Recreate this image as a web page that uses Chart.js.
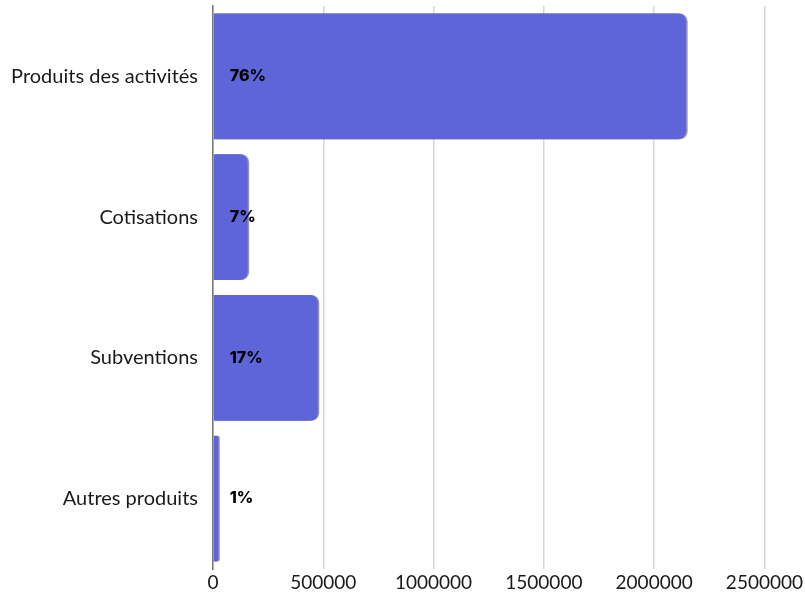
<!DOCTYPE html>
<html>
<head>
<meta charset="utf-8">
<script src="https://cdn.jsdelivr.net/npm/chart.js@4"></script>
<style>
  html, body { margin: 0; padding: 0; background: #fff; }
  #wrap { width: 805px; height: 592px; }
</style>
</head>
<body>
<div id="wrap"><canvas id="produitsChart" width="805" height="592"></canvas></div>
<script>
// donnees
const categories = ['Produits des activités', 'Cotisations', 'Subventions', 'Autres produits'];
const montants = [2145000, 157000, 475000, 24000];
const pourcentages = ['76%', '7%', '17%', '1%'];
const xTicks = [0, 500000, 1000000, 1500000, 2000000, 2500000];

// etiquettes en % dans les barres
const pctLabels = {
    id: 'pctLabels',
    afterDatasetsDraw(chart) {
        const ctx = chart.ctx;
        const meta = chart.getDatasetMeta(0);
        ctx.save();
        ctx.font = '800 16px Inter, "DejaVu Sans", sans-serif';
        ctx.fillStyle = '#000';
        ctx.textAlign = 'left';
        ctx.textBaseline = 'middle';
        meta.data.forEach((bar, i) => {
            ctx.fillText(pourcentages[i], bar.base + 16, bar.y);
        });
        ctx.restore();
    }
};

// petite ombre a droite des barres
const barShadow = {
    id: 'barShadow',
    beforeDatasetDraw(chart) {
        const ctx = chart.ctx;
        ctx.save();
        ctx.shadowColor = 'rgba(45, 35, 120, 0.5)';
        ctx.shadowOffsetX = 1.5;
        ctx.shadowOffsetY = 0;
        ctx.shadowBlur = 0;
    },
    afterDatasetDraw(chart) {
        chart.ctx.restore();
    }
};

const ctx = document.getElementById('produitsChart').getContext('2d');
new Chart(ctx, {
    type: 'bar',
    data: {
        labels: categories,
        datasets: [{
            label: 'Produits',
            data: montants,
            backgroundColor: '#5d65d9',
            borderRadius: 8,
            borderSkipped: 'start',
            barPercentage: 0.895,
            categoryPercentage: 1
        }]
    },
    options: {
        indexAxis: 'y',
        responsive: false,
        animation: false,
        layout: { padding: { top: 6, right: 40, left: 0, bottom: 0 } },
        plugins: {
            legend: { display: false },
            tooltip: { enabled: false }
        },
        scales: {
            x: {
                min: 0,
                max: 2500000,
                afterBuildTicks: scale => { scale.ticks = xTicks.map(v => ({ value: v })); },
                afterFit: scale => { scale.height = 23; },
                grid: { color: '#d6d6d6', lineWidth: 1.5, drawTicks: false },
                border: { display: false },
                ticks: {
                    padding: 2,
                    color: '#1a1a1a',
                    font: { family: 'Lato', size: 19 },
                    callback: v => String(v)
                }
            },
            y: {
                afterFit: scale => {
                    scale.width = 213;
                    scale.paddingTop = 0;
                    scale.paddingBottom = 0;
                },
                grid: { display: false, drawTicks: false },
                border: { display: true, color: '#777', width: 1.5 },
                ticks: {
                    padding: 15,
                    color: '#1a1a1a',
                    font: { family: 'Lato', size: 20 }
                }
            }
        }
    },
    plugins: [barShadow, pctLabels]
});
</script>
</body>
</html>
